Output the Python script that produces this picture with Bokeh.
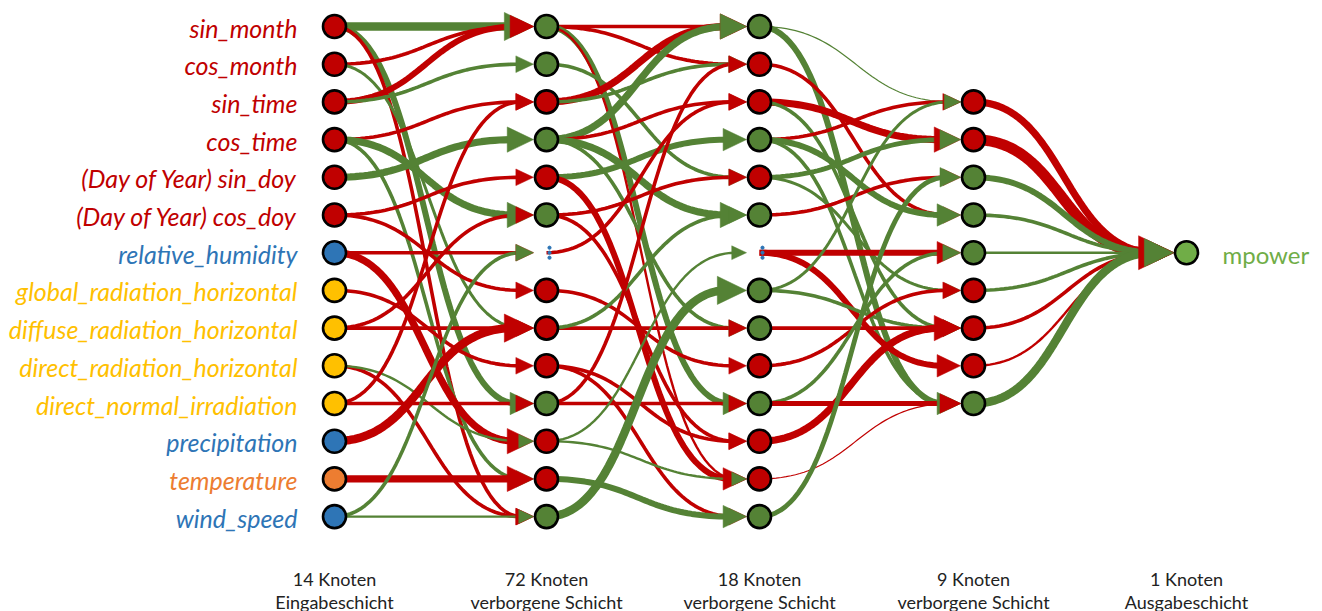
import numpy as np
from bokeh.plotting import figure
from bokeh.models import Range1d, ColumnDataSource
from bokeh.embed import file_html
from bokeh.resources import INLINE
from bokeh.core.properties import value

# ---------------- data ----------------
input_names = ["sin_month", "cos_month", "sin_time", "cos_time",
               "(Day of Year) sin_doy", "(Day of Year) cos_doy",
               "relative_humidity", "global_radiation_horizontal",
               "diffuse_radiation_horizontal", "direct_radiation_horizontal",
               "direct_normal_irradiation", "precipitation", "temperature", "wind_speed"]
input_group = ["time", "time", "time", "time", "time", "time", "moist",
               "rad", "rad", "rad", "rad", "moist", "temp", "moist"]
layer_counts = ["14 Knoten", "72 Knoten", "18 Knoten", "9 Knoten", "1 Knoten"]
layer_names = ["Eingabeschicht", "verborgene Schicht", "verborgene Schicht",
               "verborgene Schicht", "Ausgabeschicht"]
output_name = "mpower"

# node signs (1 positive, -1 negative, 0 = ellipsis row)
h1_sign = [1, 1, -1, 1, -1, 1, 0, -1, -1, -1, 1, -1, -1, 1]
h2_sign = [1, -1, -1, 1, -1, 1, 0, 1, 1, -1, 1, -1, -1, 1]
h3_rows = [2, 3, 4, 5, 6, 7, 8, 9, 10]
h3_sign = [-1, -1, 1, 1, 1, -1, -1, -1, 1]
out_row = 6

# edges: source row, target row, signed weight
e01_src = [0, 0, 0, 1, 1, 2, 2, 3, 3, 3, 4, 5, 5, 6, 6, 7, 8, 8, 9, 9, 10, 10, 11, 12, 13, 13]
e01_dst = [0, 10, 13, 0, 8, 0, 1, 2, 5, 12, 3, 4, 7, 6, 11, 9, 8, 5, 13, 11, 10, 2, 8, 12, 13, 6]
e01_w = [7, 5, -3, -3, 2.5, -5, 3, -3, 6, 3, 6, -3, -3, -3, -6, -3, -3, -3, -3, 2, -3, -3, -7, -6, 2, 3]

e12_src = [0, 0, 0, 0, 1, 2, 2, 3, 3, 3, 3, 4, 4, 5, 5, 6, 7, 8, 8, 9, 9, 10, 10, 11, 11, 12, 13]
e12_dst = [0, 1, 10, 12, 4, 0, 1, 0, 2, 5, 8, 3, 12, 4, 11, 2, 9, 8, 5, 11, 13, 10, 1, 12, 6, 13, 7]
e12_w = [-3, -3, 5, -2, 3, -6, 3, 6, -3, 6, 3, 5, -5, -3, -3, -3, -3, -3, 3, -3, -3, -3, -3, 2, 2, 5, 7]

e23_src = [0, 0, 1, 2, 2, 3, 3, 3, 4, 4, 5, 6, 6, 7, 7, 8, 9, 10, 10, 11, 12, 13]
e23_dst = [2, 10, 5, 3, 8, 2, 5, 10, 3, 7, 4, 6, 9, 2, 8, 8, 7, 6, 10, 8, 10, 4]
e23_w = [1, 5, -3, -6, 3, -3, 5, 3, 4, 2.5, -3, -5, -5, 2.5, 3, -3, -3, 3, -4, -6, -1, 4]

e34_src = [2, 3, 4, 5, 6, 7, 8, 9, 10]
e34_w = [-6, -9, 5, 3, 2, 3, -3, -2, 7]

# ---------------- style / layout ----------------
RED = "#c00000"
GREEN = "#548235"
LGREEN = "#70ad47"
BLUE = "#2e75b6"
YELLOW = "#ffc000"
ORANGE = "#ed7d31"
group_col = {"time": RED, "moist": BLUE, "rad": YELLOW, "temp": ORANGE}

LX = [334, 546, 759, 973, 1186]
Y0, DY = 26.0, 37.7
R = 13.0
WSCALE = 1.2


def ry(r):
    return Y0 + DY * r


def sign_col(s):
    return GREEN if s > 0 else RED


p = figure(width=1322, height=611, output_backend="svg", toolbar_location=None,
           x_range=Range1d(0, 1322), y_range=Range1d(611, 0), min_border=0)
p.axis.visible = False
p.grid.visible = False
p.outline_line_color = None
p.background_fill_color = "white"
p.border_fill_color = "white"

xs, ys, cols, wids = [], [], [], []
hx, hy, hcol = [], [], []


def add_edge(x0, y0, x1, y1, w):
    aw = abs(w) * WSCALE
    L = 9 + 2.4 * aw
    H = 4 + 1.2 * aw
    tip = x1 - R
    xe = tip - L * 0.7
    t = np.linspace(0, 1, 50)
    xm = (x0 + xe) / 2
    bx = (1 - t) ** 3 * x0 + 3 * (1 - t) ** 2 * t * xm + 3 * (1 - t) * t ** 2 * xm + t ** 3 * xe
    by = (1 - t) ** 3 * y0 + 3 * (1 - t) ** 2 * t * y0 + 3 * (1 - t) * t ** 2 * y1 + t ** 3 * y1
    c = sign_col(w)
    xs.append(list(bx))
    ys.append(list(by))
    cols.append(c)
    wids.append(aw)
    hx.append([tip, tip - L, tip - L])
    hy.append([y1, y1 - H, y1 + H])
    hcol.append(c)


for s, d, w in zip(e01_src, e01_dst, e01_w):
    add_edge(LX[0], ry(s), LX[1], ry(d), w)
for s, d, w in zip(e12_src, e12_dst, e12_w):
    add_edge(LX[1], ry(s), LX[2], ry(d), w)
for s, d, w in zip(e23_src, e23_dst, e23_w):
    add_edge(LX[2], ry(s), LX[3], ry(d), w)
for s, w in zip(e34_src, e34_w):
    add_edge(LX[3], ry(s), LX[4], ry(out_row), w)

p.multi_line(xs="xs", ys="ys", line_color="c", line_width="w", line_alpha=1.0,
             source=ColumnDataSource(dict(xs=xs, ys=ys, c=cols, w=wids)))
p.patches(xs="xs", ys="ys", fill_color="c", line_color="c", line_width=0.5,
          source=ColumnDataSource(dict(xs=hx, ys=hy, c=hcol)))

# nodes
nx, ny, nc = [], [], []
for i, g in enumerate(input_group):
    nx.append(LX[0]); ny.append(ry(i)); nc.append(group_col[g])
for i, s in enumerate(h1_sign):
    if s != 0:
        nx.append(LX[1]); ny.append(ry(i)); nc.append(sign_col(s))
for i, s in enumerate(h2_sign):
    if s != 0:
        nx.append(LX[2]); ny.append(ry(i)); nc.append(sign_col(s))
for r, s in zip(h3_rows, h3_sign):
    nx.append(LX[3]); ny.append(ry(r)); nc.append(sign_col(s))
nx.append(LX[4]); ny.append(ry(out_row)); nc.append(LGREEN)
p.scatter(x="x", y="y", fill_color="c", source=ColumnDataSource(dict(x=nx, y=ny, c=nc)),
          size=23, line_color="black", line_width=2.6)

# ellipsis dots
ex, ey = [], []
for li, signs in ((1, h1_sign), (2, h2_sign)):
    for i, s in enumerate(signs):
        if s == 0:
            for k in (-5, 0, 5):
                ex.append(LX[li] + 3); ey.append(ry(i) + k)
p.scatter(ex, ey, size=3.2, color=BLUE)

# input labels
p.text(x=[297] * len(input_names), y=[ry(i) + 1 for i in range(len(input_names))],
       text=input_names, text_color=[group_col[g] for g in input_group],
       text_align="right", text_baseline="middle",
       text_font=value("Lato"), text_font_style="italic", text_font_size="25px")

# output label
p.text(x=[1222], y=[ry(out_row) + 2], text=[output_name], text_color=LGREEN,
       text_align="left", text_baseline="middle",
       text_font=value("Lato"), text_font_size="24px")

# layer labels
p.text(x=LX, y=[578] * 5, text=layer_counts, text_color="#222222",
       text_align="center", text_baseline="middle",
       text_font=value("Lato"), text_font_size="18px")
p.text(x=LX, y=[601] * 5, text=layer_names, text_color="#222222",
       text_align="center", text_baseline="middle",
       text_font=value("Lato"), text_font_size="18px")

open("out.html", "w").write(file_html(p, INLINE))
